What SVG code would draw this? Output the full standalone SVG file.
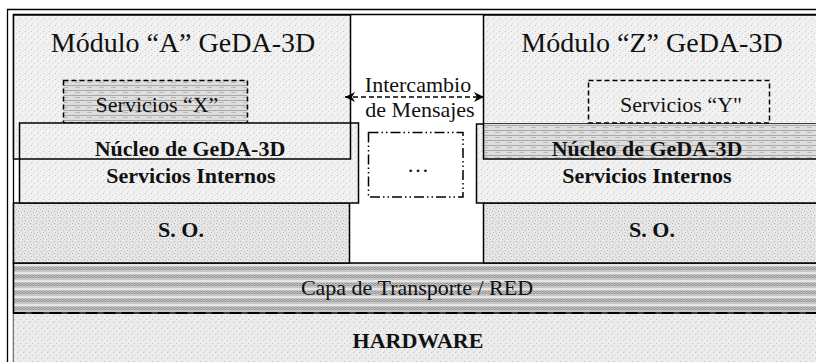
<svg xmlns="http://www.w3.org/2000/svg" width="816" height="362" viewBox="0 0 816 362">
<defs>
<pattern id="pLight" width="6" height="6" patternUnits="userSpaceOnUse">
<rect width="6" height="6" fill="#f1f1f1"/>
<rect x="1" y="1" width="1" height="1" fill="#c4c4c4"/>
<rect x="4" y="3" width="1" height="1" fill="#d0d0d0"/>
<rect x="2" y="5" width="1" height="1" fill="#dadada"/>
</pattern>
<pattern id="pSO" width="6" height="6" patternUnits="userSpaceOnUse">
<rect width="6" height="6" fill="#e6e6e6"/>
<rect x="0" y="1" width="1" height="1" fill="#b0b0b0"/>
<rect x="3" y="2" width="1" height="1" fill="#bcbcbc"/>
<rect x="1" y="4" width="1" height="1" fill="#b8b8b8"/>
<rect x="4" y="5" width="1" height="1" fill="#c0c0c0"/>
</pattern>
<pattern id="pBrick" width="12" height="5" patternUnits="userSpaceOnUse">
<rect width="12" height="5" fill="#dedede"/>
<rect x="0" y="0" width="12" height="1" fill="#a8a8a8"/>
<rect x="3" y="2" width="5" height="1" fill="#b8b8b8"/>
</pattern>
<pattern id="pCapa" width="6" height="8" patternUnits="userSpaceOnUse">
<rect width="6" height="8" fill="#c6c6c6"/>
<rect x="0" y="0" width="6" height="2" fill="#e4e4e4"/>
<path d="M0 3 L3 6 M3 3 L0 6 M3 3 L6 6 M6 3 L3 6" stroke="#8a8a8a" stroke-width="0.8"/>
</pattern>
<pattern id="pHW" width="6" height="6" patternUnits="userSpaceOnUse">
<rect width="6" height="6" fill="#ececec"/>
<rect x="2" y="1" width="1" height="1" fill="#c2c2c2"/>
<rect x="5" y="4" width="1" height="1" fill="#c8c8c8"/>
<rect x="0" y="3" width="1" height="1" fill="#d4d4d4"/>
</pattern>
<marker id="arr" markerWidth="12" markerHeight="12" refX="10" refY="6" orient="auto-start-reverse" markerUnits="userSpaceOnUse">
<path d="M0 1 L10 6 L0 11 L3 6 Z" fill="#000"/>
</marker>
<style>
.box{stroke:#000;stroke-width:1.5}
.t{font-family:"Liberation Serif","Times New Roman",serif;fill:#111;text-anchor:middle}
.big{font-size:28px}
.reg{font-size:22px}
.b{font-size:22px;font-weight:bold}
</style>
</defs>
<rect width="816" height="362" fill="#fff"/>

<g id="frame" fill="none" stroke="#000" stroke-width="1.3">
<path d="M7.5 362 V9.5 H816"/>
<path d="M13.5 362 V14.5 H816"/>
</g>

<g id="hardware">
<rect x="13.5" y="313" width="810" height="60" fill="url(#pHW)"/>
<text class="t b" x="418" y="348">HARDWARE</text>
</g>

<g id="capa">
<rect x="13.5" y="263" width="810" height="50" fill="url(#pCapa)" class="box"/>
<line x1="13.5" y1="313" x2="816" y2="313" stroke="#000" stroke-width="2" stroke-dasharray="12 6"/>
<text class="t reg" x="417" y="295">Capa de Transporte / RED</text>
</g>

<g id="so-a">
<rect x="13.5" y="203" width="336" height="60" class="box" fill="url(#pSO)"/>
<text class="t b" x="181" y="237">S. O.</text>
</g>
<g id="so-z">
<rect x="483.5" y="203" width="340" height="60" class="box" fill="url(#pSO)"/>
<text class="t b" x="652" y="237">S. O.</text>
</g>

<g id="modulo-a">
<rect x="13.5" y="15" width="337" height="144" fill="url(#pLight)"/>
<text class="t big" x="183" y="52">Módulo “A” GeDA-3D</text>
</g>
<g id="servicios-x">
<rect x="63.5" y="80.5" width="184" height="42.5" fill="url(#pBrick)" stroke="#000" stroke-width="1.5" stroke-dasharray="5 3"/>
<text class="t reg" x="157" y="112">Servicios “X”</text>
</g>
<g id="nucleo-a">
<rect x="19.5" y="123" width="339" height="80" class="box" fill="url(#pLight)"/>
<rect x="13.5" y="15" width="337" height="144" class="box" fill="none"/>
<text class="t b" x="190" y="156">Núcleo de GeDA-3D</text>
<text class="t b" x="191" y="183">Servicios Internos</text>
</g>

<g id="modulo-z">
<rect x="483.5" y="15" width="340" height="144" fill="url(#pLight)"/>
<text class="t big" x="652" y="52">Módulo “Z” GeDA-3D</text>
</g>
<g id="servicios-y">
<rect x="588.5" y="80.5" width="181" height="42.5" fill="none" stroke="#000" stroke-width="1.5" stroke-dasharray="5 3"/>
<text class="t reg" x="681" y="112">Servicios “Y"</text>
</g>
<g id="nucleo-z">
<rect x="476.5" y="124" width="350" height="79" class="box" fill="url(#pLight)"/>
<rect x="483.5" y="124" width="340" height="35" fill="url(#pBrick)"/>
<rect x="483.5" y="15" width="340" height="144" class="box" fill="none"/>
<text class="t b" x="647" y="156">Núcleo de GeDA-3D</text>
<text class="t b" x="647" y="183">Servicios Internos</text>
</g>

<g id="otros">
<rect x="368.5" y="132.5" width="94.5" height="64.5" fill="none" stroke="#000" stroke-width="1.5" stroke-dasharray="10 3 1.5 3 1.5 3"/>
<text class="t reg" x="418" y="172">…</text>
</g>

<g id="connectors">
<line x1="345" y1="97" x2="484" y2="97" stroke="#000" stroke-width="1.5" stroke-dasharray="5 3" marker-start="url(#arr)" marker-end="url(#arr)"/>
</g>
<g id="label-intercambio">
<text class="t reg" x="418" y="92">Intercambio</text>
<text class="t reg" x="420" y="117">de Mensajes</text>
</g>
</svg>
